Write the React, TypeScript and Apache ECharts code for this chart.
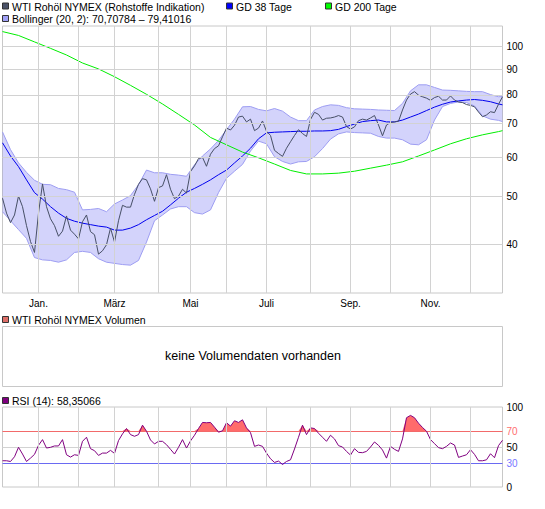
import React, { useEffect, useRef } from "react";
import * as echarts from "echarts";

// ---------- data ----------
const monthKeys = ["2008-12", "2009-01", "2009-02", "2009-03", "2009-04", "2009-05", "2009-06", "2009-07", "2009-08", "2009-09", "2009-10", "2009-11", "2009-12"];
const monthNames = ["Dez.", "Jan.", "Feb.", "März", "Apr.", "Mai", "Juni", "Juli", "Aug.", "Sep.", "Okt.", "Nov.", "Dez."];
const labelledMonths = ["Jan.", "März", "Mai", "Juli", "Sep.", "Nov."];
// number of sampled quotes per month
const monthSlots = [9, 10, 9, 11, 8, 9, 10, 11, 10, 10, 10, 10, 9];

const priceTickLabels = [40, 50, 60, 70, 80, 90, 100];
const rsiTickLabels = [0, 30, 50, 70, 100];

const price = [
  49.6, 46.3, 44.3, 45.9, 50.1, 47.7, 43.7, 40.6, 38.6, 46.3,
  53.0, 47.7, 45.1, 43.7, 41.6, 42.6, 45.7, 42.8, 42.0, 41.1,
  44.5, 45.9, 42.5, 41.9, 38.3, 38.9, 40.0, 43.2, 40.5, 44.7,
  48.0, 47.6, 47.6, 50.5, 52.9, 54.3, 54.0, 51.8, 48.9, 52.1,
  52.5, 55.3, 51.7, 49.5, 50.1, 51.7, 50.8, 56.1, 57.6, 59.6,
  59.9, 57.5, 60.8, 62.4, 63.2, 65.9, 68.6, 68.0, 69.5, 72.2,
  72.5, 70.6, 71.5, 67.8, 68.6, 70.9, 67.6, 66.3, 61.9, 61.0,
  60.2, 62.5, 64.4, 66.3, 68.1, 66.9, 66.0, 71.4, 73.8, 73.1,
  71.2, 71.8, 71.9, 72.2, 72.7, 72.2, 69.1, 68.3, 69.0, 71.0,
  71.5, 71.2, 71.9, 72.7, 69.6, 66.2, 69.6, 70.4, 70.6, 70.8,
  74.6, 78.1, 80.3, 81.2, 79.9, 79.3, 78.8, 78.0, 79.0, 79.5,
  78.1, 78.1, 79.6, 78.1, 77.4, 77.2, 76.5, 76.2, 75.7, 73.9,
  72.3, 72.9, 74.0, 73.7, 76.6, 79.3,
];

// every 2nd quote
const gd38 = [
  64.1, 60.3, 57.4, 54.0, 50.9, 49.4, 47.7, 46.3, 45.2, 44.6,
  44.2, 43.9, 43.6, 43.4, 42.8, 42.8, 43.2, 43.9, 44.9, 45.8,
  46.7, 48.1, 49.6, 51.0, 51.9, 52.9, 54.0, 55.3, 56.5, 58.4,
  60.3, 62.5, 65.3, 67.1, 67.3, 67.4, 67.5, 67.6, 67.6, 67.7,
  67.7, 67.8, 68.2, 69.1, 69.9, 70.7, 71.0, 71.2, 70.6, 70.6,
  71.2, 72.2, 73.2, 74.4, 75.6, 76.6, 77.4, 77.8, 78.1, 78.3,
  78.0, 77.5, 76.7, 76.4,
];

// every 4th quote
const gd200 = [
  107.2, 105.3, 102.2, 99.2, 96.2, 92.7, 90.2, 87.0, 83.6, 80.2,
  76.7, 73.1, 69.6, 65.7, 63.5, 61.4, 59.8, 58.1, 56.4, 55.5,
  55.5, 55.7, 56.2, 57.0, 57.8, 58.7, 60.3, 62.0, 63.8, 65.3,
  66.5, 67.5, 67.8,
];

// every 2nd quote
const bollUpper = [
  67.4, 62.1, 58.4, 55.9, 53.9, 52.9, 52.8, 51.9, 51.6, 51.0,
  47.0, 47.1, 47.3, 46.6, 48.3, 49.2, 50.2, 52.8, 56.5, 55.8,
  55.8, 55.4, 55.2, 54.9, 57.9, 60.3, 62.3, 64.8, 68.1, 71.5,
  75.7, 75.8, 74.8, 74.3, 75.1, 74.2, 72.2, 71.0, 71.0, 74.6,
  75.8, 76.4, 76.2, 75.4, 75.0, 74.9, 74.8, 74.6, 74.5, 74.4,
  76.9, 81.5, 83.8, 83.8, 82.8, 81.8, 81.7, 81.5, 81.3, 81.2,
  81.2, 80.1, 79.3, 79.41,
];
const bollLower = [
  46.6, 44.7, 42.9, 41.2, 37.7, 37.3, 37.2, 36.9, 37.3, 38.6,
  38.8, 38.6, 37.5, 36.9, 36.7, 36.5, 36.4, 37.2, 40.5, 44.7,
  45.9, 47.2, 47.7, 47.7, 46.4, 46.1, 47.0, 50.9, 54.4, 56.2,
  58.0, 61.7, 64.6, 63.8, 60.1, 58.8, 58.1, 58.7, 58.8, 60.1,
  62.4, 65.2, 66.8, 67.4, 67.2, 67.1, 67.0, 66.0, 65.5, 65.5,
  65.0, 63.7, 63.5, 65.0, 71.2, 75.8, 76.9, 77.4, 77.2, 76.0,
  72.6, 71.5, 71.1, 70.71,
];

const rsi = [
  32.8, 32.8, 31.9, 37.8, 49.6, 41.2, 31.9, 36.1, 40.8, 52.1,
  59.2, 48.7, 49.6, 51.3, 51.3, 59.2, 40.3, 37.4, 40.3, 39.5,
  57.1, 62.2, 47.9, 45.4, 39.5, 42.4, 42.4, 45.8, 42.0, 58.0,
  66.4, 73.1, 65.5, 63.4, 65.5, 77.3, 69.7, 58.8, 53.8, 57.1,
  57.1, 52.9, 47.1, 41.2, 49.6, 59.2, 48.7, 57.6, 64.7, 73.1,
  80.7, 80.3, 80.7, 74.8, 68.5, 70.2, 80.3, 76.1, 82.8, 80.7,
  84.0, 73.9, 68.0, 50.8, 52.5, 50.8, 42.4, 35.3, 30.7, 32.4,
  28.2, 31.9, 34.0, 47.5, 62.2, 77.3, 65.5, 73.9, 73.1, 67.2,
  62.2, 57.1, 64.7, 60.1, 51.7, 50.0, 44.5, 39.9, 47.9, 43.3,
  42.9, 44.5, 50.0, 56.3, 52.1, 46.2, 36.1, 50.8, 47.1, 44.5,
  60.1, 86.6, 89.5, 86.6, 79.8, 74.4, 69.7, 59.2, 54.2, 49.2,
  47.9, 50.8, 55.0, 52.5, 37.0, 38.7, 40.3, 46.6, 40.8, 32.8,
  32.8, 34.0, 41.6, 36.6, 51.7, 58.4,
];

const rsiUpper = 70;
const rsiLower = 30;

// ---------- derived tables ----------
const categories: string[] = [];
const monthStart: Record<number, string> = {};
monthKeys.forEach((key, m) => {
  for (let j = 0; j < monthSlots[m]; j++) {
    if (j === 0) monthStart[categories.length] = monthNames[m];
    categories.push(`${key}/${j + 1}`);
  }
});
const N = categories.length;
const sparse = (arr: number[], step: number) => arr.map((v, k) => [Math.min(k * step, N - 1), v]);
const monthStartIdx = Object.keys(monthStart).map(Number).filter((i) => i > 0);

const FONT = "'Liberation Sans', Arial, Helvetica, sans-serif";
const GRID_COLOR = "#d2d2d2";
const BORDER_COLOR = "#c8c8c8";

const monthMarkLine = () => ({
  silent: true,
  symbol: ["none", "none"],
  precision: 0,
  lineStyle: { color: GRID_COLOR, type: "solid", width: 1, opacity: 1 },
  label: { show: false },
  emphasis: { disabled: true },
  data: monthStartIdx.map((i) => ({ xAxis: i })),
});

function legendItem(x: number, y: number, color: string, text: string) {
  return [
    {
      type: "rect",
      shape: { x: x + 0.5, y: y - 3, width: 6, height: 6 },
      style: { fill: color, stroke: "#333", lineWidth: 1 },
      silent: true,
    },
    {
      type: "text",
      x: x + 10,
      y: y + 0.5,
      style: { text, fill: "#000", fontSize: 10.5, fontFamily: FONT, verticalAlign: "middle", align: "left" },
      silent: true,
    },
  ];
}

export default function App() {
  const ref = useRef<HTMLDivElement>(null);

  useEffect(() => {
    if (!ref.current) return;
    const chart = echarts.init(ref.current, null, { renderer: "svg" });
    const splitInterval = (idx: number) => idx > 0 && monthStart[idx] !== undefined;

    const option: any = {
      animation: false,
      backgroundColor: "#fff",
      grid: [
        { left: 2.5, top: 26, width: 500, height: 267, show: true, borderColor: BORDER_COLOR, borderWidth: 1, backgroundColor: "#fff" },
        { left: 2.5, top: 407, width: 500, height: 80, show: true, borderColor: BORDER_COLOR, borderWidth: 1, backgroundColor: "#fff" },
      ],
      xAxis: [
        {
          type: "category",
          gridIndex: 0,
          data: categories,
          boundaryGap: false,
          axisLine: { show: false },
          axisTick: { show: false },
          axisLabel: {
            interval: (idx: number) => labelledMonths.includes(monthStart[idx]),
            formatter: (_v: string, idx: number) => monthStart[idx] ?? "",
            fontSize: 10,
            fontFamily: FONT,
            color: "#000",
            margin: 5,
          },
          splitLine: { show: true, interval: splitInterval, lineStyle: { color: GRID_COLOR, width: 1 } },
        },
        {
          type: "category",
          gridIndex: 1,
          data: categories,
          boundaryGap: false,
          axisLine: { show: false },
          axisTick: { show: false },
          axisLabel: { show: false },
          splitLine: { show: true, interval: splitInterval, lineStyle: { color: GRID_COLOR, width: 1 } },
        },
      ],
      yAxis: [
        {
          type: "log",
          logBase: 10,
          gridIndex: 0,
          min: 32,
          max: 110,
          position: "right",
          axisLine: { show: false },
          axisTick: { show: false },
          axisLabel: { show: false },
          splitLine: { show: false },
        },
        {
          type: "value",
          gridIndex: 1,
          min: 0,
          max: 100,
          interval: 10,
          position: "right",
          axisLine: { show: false },
          axisTick: { show: false },
          axisLabel: {
            formatter: (v: number) => (rsiTickLabels.includes(v) ? String(v) : ""),
            color: (v: any) => (Number(v) === rsiUpper ? "#ff6f6f" : Number(v) === rsiLower ? "#7878ff" : "#000"),
            fontSize: 10,
            fontFamily: FONT,
            margin: 4,
          },
          splitLine: {
            show: true,
            lineStyle: {
              width: 1,
              color: [
                "rgba(0,0,0,0)", "rgba(0,0,0,0)", "rgba(0,0,0,0)", "#6a6af2", "rgba(0,0,0,0)",
                GRID_COLOR, "rgba(0,0,0,0)", "#f26a6a", "rgba(0,0,0,0)", "rgba(0,0,0,0)", "rgba(0,0,0,0)",
              ],
            },
          },
        },
      ],
      series: [
        {
          type: "custom",
          name: "Bollinger-Band",
          xAxisIndex: 0,
          yAxisIndex: 0,
          silent: true,
          z: 1,
          data: [[0, 50]],
          encode: { x: 0, y: 1 },
          renderItem: (_params: any, api: any) => {
            const pts: number[][] = [];
            bollUpper.forEach((v, k) => pts.push(api.coord([Math.min(k * 2, N - 1), v])));
            for (let k = bollLower.length - 1; k >= 0; k--) pts.push(api.coord([Math.min(k * 2, N - 1), bollLower[k]]));
            return { type: "polygon", shape: { points: pts }, style: { fill: "rgba(105,105,240,0.29)", stroke: "none" } };
          },
        },
        {
          type: "line",
          name: "Bollinger oben",
          xAxisIndex: 0,
          yAxisIndex: 0,
          data: sparse(bollUpper, 2),
          symbol: "none",
          silent: true,
          z: 2,
          lineStyle: { color: "#9d9df2", width: 1 },
          markLine: {
            silent: true,
            symbol: ["none", "none"],
            lineStyle: { color: GRID_COLOR, type: "solid", width: 1 },
            label: { show: true, position: "end", color: "#000", fontSize: 10, fontFamily: FONT, distance: 4 },
            emphasis: { disabled: true },
            data: priceTickLabels.map((v) => ({ yAxis: v, label: { formatter: String(v) } })),
          },
        },
        {
          type: "line",
          name: "Bollinger unten",
          xAxisIndex: 0,
          yAxisIndex: 0,
          data: sparse(bollLower, 2),
          symbol: "none",
          silent: true,
          z: 2,
          lineStyle: { color: "#9d9df2", width: 1 },
          markLine: monthMarkLine(),
        },
        {
          type: "line",
          name: "GD 200 Tage",
          xAxisIndex: 0,
          yAxisIndex: 0,
          data: sparse(gd200, 4),
          symbol: "none",
          silent: true,
          z: 3,
          lineStyle: { color: "#00ee00", width: 1 },
        },
        {
          type: "line",
          name: "GD 38 Tage",
          xAxisIndex: 0,
          yAxisIndex: 0,
          data: sparse(gd38, 2),
          symbol: "none",
          silent: true,
          z: 3,
          lineStyle: { color: "#0000ee", width: 1 },
        },
        {
          type: "line",
          name: "WTI Rohöl NYMEX",
          xAxisIndex: 0,
          yAxisIndex: 0,
          data: price,
          symbol: "none",
          silent: true,
          z: 4,
          lineStyle: { color: "#474f66", width: 1 },
        },
        {
          type: "line",
          name: "RSI > 70",
          xAxisIndex: 1,
          yAxisIndex: 1,
          data: rsi.map((v) => Math.max(v, rsiUpper)),
          symbol: "none",
          silent: true,
          z: 2,
          lineStyle: { width: 0, opacity: 0 },
          areaStyle: { color: "#ff6b6b", opacity: 1, origin: rsiUpper },
          markLine: monthMarkLine(),
        },
        {
          type: "line",
          name: "RSI < 30",
          xAxisIndex: 1,
          yAxisIndex: 1,
          data: rsi.map((v) => Math.min(v, rsiLower)),
          symbol: "none",
          silent: true,
          z: 2,
          lineStyle: { width: 0, opacity: 0 },
          areaStyle: { color: "#6e6eff", opacity: 1, origin: rsiLower },
        },
        {
          type: "line",
          name: "RSI (14)",
          xAxisIndex: 1,
          yAxisIndex: 1,
          data: rsi,
          symbol: "none",
          silent: true,
          z: 3,
          lineStyle: { color: "#800080", width: 1 },
        },
      ],
      graphic: [
        ...legendItem(2, 6, "#4a5268", "WTI Rohöl NYMEX (Rohstoffe Indikation)"),
        ...legendItem(226, 6, "#0000ff", "GD 38 Tage"),
        ...legendItem(325, 6, "#00ff00", "GD 200 Tage"),
        ...legendItem(2, 18.5, "#a0a0f6", "Bollinger (20, 2): 70,70784 – 79,41016"),
        ...legendItem(2, 319.5, "#dd6e68", "WTI Rohöl NYMEX Volumen"),
        {
          type: "rect",
          shape: { x: 2.5, y: 326.5, width: 500, height: 60 },
          style: { fill: "#fff", stroke: BORDER_COLOR, lineWidth: 1 },
          silent: true,
        },
        {
          type: "text",
          x: 253,
          y: 356,
          style: {
            text: "keine Volumendaten vorhanden",
            fill: "#000",
            fontSize: 12.5,
            fontFamily: FONT,
            align: "center",
            verticalAlign: "middle",
          },
          silent: true,
        },
        ...legendItem(2, 400.5, "#800080", "RSI (14): 58,35066"),
      ],
    };

    chart.setOption(option);
    return () => chart.dispose();
  }, []);

  return (
    <div
      ref={ref}
      style={{ position: "fixed", left: 0, top: 0, width: 545, height: 509, background: "#fff" }}
    />
  );
}
